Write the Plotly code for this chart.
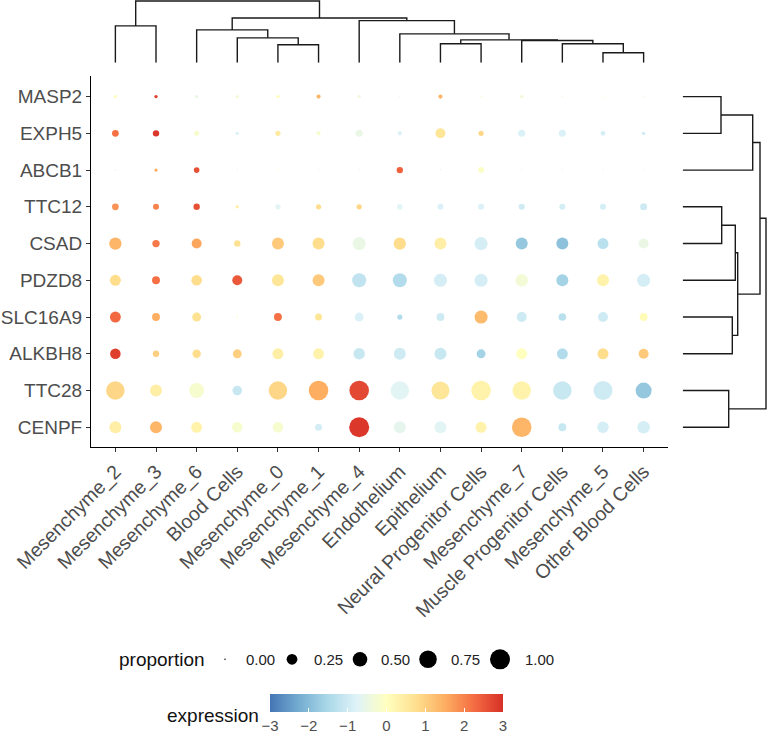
import plotly.graph_objects as go
import math

# ---------------- data ----------------
cell_types = ["Mesenchyme_2", "Mesenchyme_3", "Mesenchyme_6", "Blood Cells", "Mesenchyme_0",
              "Mesenchyme_1", "Mesenchyme_4", "Endothelium", "Epithelium", "Neural Progenitor Cells",
              "Mesenchyme_7", "Muscle Progenitor Cells", "Mesenchyme_5", "Other Blood Cells"]

genes = ["MASP2", "EXPH5", "ABCB1", "TTC12", "CSAD", "PDZD8", "SLC16A9", "ALKBH8", "TTC28", "CENPF"]

proportion = [
    [0.01, 0.01, 0.01, 0.01, 0.01, 0.02, 0.01, 0.00, 0.02, 0.00, 0.01, 0.00, 0.00, 0.00],  # MASP2
    [0.08, 0.07, 0.04, 0.01, 0.04, 0.02, 0.09, 0.02, 0.21, 0.04, 0.09, 0.09, 0.03, 0.01],  # EXPH5
    [0.00, 0.01, 0.05, 0.00, 0.00, 0.00, 0.00, 0.07, 0.00, 0.06, 0.00, 0.00, 0.00, 0.00],  # ABCB1
    [0.08, 0.06, 0.07, 0.01, 0.04, 0.04, 0.04, 0.05, 0.06, 0.06, 0.06, 0.06, 0.06, 0.09],  # TTC12
    [0.34, 0.10, 0.21, 0.07, 0.32, 0.32, 0.39, 0.34, 0.32, 0.39, 0.32, 0.32, 0.26, 0.21],  # CSAD
    [0.26, 0.12, 0.24, 0.21, 0.32, 0.32, 0.46, 0.46, 0.39, 0.39, 0.35, 0.32, 0.32, 0.39],  # PDZD8
    [0.26, 0.12, 0.16, 0.00, 0.12, 0.09, 0.16, 0.04, 0.12, 0.39, 0.21, 0.11, 0.21, 0.12],  # SLC16A9
    [0.24, 0.07, 0.14, 0.16, 0.26, 0.26, 0.29, 0.32, 0.32, 0.16, 0.26, 0.26, 0.26, 0.21],  # ALKBH8
    [0.84, 0.32, 0.53, 0.19, 0.84, 0.95, 0.95, 0.84, 0.80, 0.95, 0.84, 0.84, 0.89, 0.61],  # TTC28
    [0.32, 0.32, 0.26, 0.24, 0.24, 0.09, 1.00, 0.32, 0.32, 0.26, 0.95, 0.12, 0.29, 0.35],  # CENPF
]

expression = [
    [0.1, 2.8, -0.5, -0.3, 0.1, 1.4, -0.4, -0.5, 1.4, -0.3, -0.3, -0.4, -0.3, -0.4],   # MASP2
    [2.2, 2.9, -0.2, -0.8, 0.5, -0.2, -0.5, -0.8, 0.6, 0.9, -0.8, -0.8, -0.9, -1.0],   # EXPH5
    [-0.6, 1.5, 2.6, -0.5, 0.0, -0.5, -0.5, 2.4, -0.6, -0.1, -0.4, -0.4, -0.4, -0.5],  # ABCB1
    [1.8, 2.0, 2.6, 0.4, -0.7, 0.8, 0.9, -0.7, -0.8, -0.8, -1.0, -0.9, -0.9, -1.0],    # TTC12
    [1.4, 2.1, 1.6, 0.7, 1.1, 0.8, -0.5, 0.8, 0.4, -0.9, -1.8, -1.9, -1.3, -0.5],      # CSAD
    [0.8, 2.2, 0.8, 2.5, 0.6, 1.1, -1.2, -1.4, -0.9, -0.9, -0.3, -1.6, 0.3, -0.9],     # PDZD8
    [2.3, 1.5, 0.7, 0.2, 2.2, 0.6, -0.8, -1.4, -1.0, 1.3, -1.0, -1.3, -1.0, 0.1],      # SLC16A9
    [2.8, 1.0, 0.8, 1.0, 0.4, 0.3, -1.1, -1.0, -1.1, -1.6, 0.0, -1.4, 0.8, 1.1],       # ALKBH8
    [0.9, 0.4, -0.2, -1.1, 0.9, 1.5, 2.7, -0.7, 0.6, 0.3, 0.3, -1.1, -1.0, -1.8],      # TTC28
    [0.4, 1.4, 0.3, -0.2, -0.2, -0.9, 2.9, -0.6, -0.7, 0.3, 1.4, -1.1, -0.9, -0.9],    # CENPF
]

size_breaks = [0.00, 0.25, 0.50, 0.75, 1.00]
size_labels = ["0.00", "0.25", "0.50", "0.75", "1.00"]
color_breaks = [-3, -2, -1, 0, 1, 2, 3]
color_labels = ["\u22123", "\u22122", "\u22121", "0", "1", "2", "3"]

# dendrograms: (left, right, height)
col_tree = (("Mesenchyme_2", "Mesenchyme_3", 37),
            (("Mesenchyme_6", ("Blood Cells", ("Mesenchyme_0", "Mesenchyme_1", 18), 25), 33),
             ("Mesenchyme_4",
              ("Endothelium",
               (("Epithelium", "Neural Progenitor Cells", 19),
                ("Mesenchyme_7", ("Muscle Progenitor Cells", ("Mesenchyme_5", "Other Blood Cells", 10), 19), 22.3),
                23), 29), 42.3), 45), 62)

row_tree = (((("MASP2", "EXPH5", 38.3), "ABCB1", 70),
             ((("TTC12", "CSAD", 39), "PDZD8", 52.6), ("SLC16A9", "ALKBH8", 49.6), 55), 77.3),
            ("TTC28", "CENPF", 46), 83.3)

# ---------------- helpers ----------------
def dot_size(p):
    return 1.5 + 18.5 * math.sqrt(p)

colorscale = [[0.0, "#4575b4"], [0.125, "#74add1"], [0.25, "#abd9e9"], [0.375, "#e0f3f8"],
              [0.5, "#ffffbf"], [0.625, "#fee090"], [0.75, "#fdae61"], [0.875, "#f46d43"],
              [1.0, "#d73027"]]

def dendro_segments(tree, pos):
    segs = []
    def rec(node):
        if isinstance(node, str):
            return pos[node], 0.0
        l, r, h = node
        pl, hl = rec(l)
        pr, hr = rec(r)
        segs.append(([pl, pl, pr, pr], [hl, h, h, hr]))
        return (pl + pr) / 2.0, h
    rec(tree)
    return segs

FW, FH = 768, 738
FONT = "Liberation Sans, Arial, Helvetica, sans-serif"

def px(x):  # window pixel x -> paper
    return x / FW

def py(y):  # window pixel y -> paper
    return (FH - y) / FH

# main plot geometry (window pixels)
xdom = [px(91), px(668)]
ydom = [py(449.3), py(76.7)]
xrng = [-0.6, len(cell_types) - 1 + 0.6]
yrng = [-0.55, len(genes) - 1 + 0.55]

fig = go.Figure()

# ---------------- dot plot ----------------
xs, ys, ss, cs = [], [], [], []
for gi, g in enumerate(genes):
    for ci, c in enumerate(cell_types):
        xs.append(c)
        ys.append(g)
        ss.append(dot_size(proportion[gi][ci]))
        cs.append(expression[gi][ci])
fig.add_trace(go.Scatter(
    x=xs, y=ys, mode="markers", xaxis="x", yaxis="y",
    marker=dict(size=ss, color=cs, colorscale=colorscale, cmin=-3, cmax=3,
                line=dict(width=0), opacity=1,
                colorbar=dict(orientation="h", x=px(386.5), xanchor="center",
                              y=py(697), yanchor="top",
                              len=233, lenmode="pixels", thickness=18, thicknessmode="pixels",
                              outlinewidth=0, xpad=0, ypad=0,
                              tickvals=color_breaks, ticktext=color_labels,
                              ticks="inside", ticklen=4, tickcolor="white", tickwidth=1,
                              tickfont=dict(size=15, color="#4d4d4d", family=FONT))),
    showlegend=False, hoverinfo="skip"))

# ---------------- column dendrogram ----------------
col_pos = {c: i for i, c in enumerate(cell_types)}
for sx, sy in dendro_segments(col_tree, col_pos):
    fig.add_trace(go.Scatter(x=sx, y=sy, mode="lines", xaxis="x2", yaxis="y2",
                             line=dict(color="#1a1a1a", width=1.4), showlegend=False, hoverinfo="skip"))

# ---------------- row dendrogram ----------------
row_pos = {g: len(genes) - 1 - i for i, g in enumerate(genes)}
for sx, sy in dendro_segments(row_tree, row_pos):
    fig.add_trace(go.Scatter(x=sy, y=sx, mode="lines", xaxis="x3", yaxis="y3",
                             line=dict(color="#1a1a1a", width=1.4), showlegend=False, hoverinfo="skip"))

# ---------------- size legend ----------------
leg_dot_x = [225, 292, 360, 428, 500]
leg_lab_x = [244, 312, 379, 449, 523]
leg_y = 662
fig.add_trace(go.Scatter(x=leg_dot_x, y=[leg_y] * len(size_breaks), mode="markers",
                         xaxis="x4", yaxis="y4",
                         marker=dict(size=[dot_size(p) for p in size_breaks], color="black",
                                     line=dict(width=0), opacity=1),
                         showlegend=False, hoverinfo="skip", cliponaxis=False))

annotations = []
for lx, lab in zip(leg_lab_x, size_labels):
    annotations.append(dict(x=px(lx), y=py(leg_y), xref="paper", yref="paper", text=lab,
                            showarrow=False, xanchor="left", yanchor="middle",
                            font=dict(size=15, color="#222222", family=FONT)))
annotations.append(dict(x=px(161.5), y=py(leg_y), xref="paper", yref="paper", text="proportion",
                        showarrow=False, xanchor="center", yanchor="middle",
                        font=dict(size=19, color="#111111", family=FONT)))
annotations.append(dict(x=px(213), y=py(718), xref="paper", yref="paper", text="expression",
                        showarrow=False, xanchor="center", yanchor="middle",
                        font=dict(size=19, color="#111111", family=FONT)))

hidden = dict(visible=False, showgrid=False, zeroline=False, fixedrange=True, automargin=False)

fig.update_layout(
    template="none",
    width=FW, height=FH, autosize=False,
    margin=dict(l=0, r=0, t=0, b=0, pad=0),
    paper_bgcolor="white", plot_bgcolor="rgba(0,0,0,0)",
    font=dict(family=FONT),
    hovermode=False,
    xaxis=dict(domain=xdom, range=xrng, type="category", categoryorder="array", categoryarray=cell_types,
               showgrid=False, zeroline=False, showline=True, linecolor="black", linewidth=1,
               ticks="outside", ticklen=4, tickcolor="#333333", tickwidth=1,
               tickangle=-45, tickfont=dict(size=19.5, color="#4d4d4d", family=FONT),
               anchor="y", fixedrange=True, automargin=False),
    yaxis=dict(domain=ydom, range=yrng, type="category", categoryorder="array",
               categoryarray=list(reversed(genes)),
               showgrid=False, zeroline=False, showline=True, linecolor="black", linewidth=1,
               ticks="outside", ticklen=4, tickcolor="#333333", tickwidth=1,
               tickfont=dict(size=19, color="#4d4d4d", family=FONT),
               anchor="x", fixedrange=True, automargin=False),
    xaxis2=dict(domain=xdom, range=xrng, anchor="y2", **hidden),
    yaxis2=dict(domain=[py(63), 1.0], range=[0, 63], anchor="x2", **hidden),
    xaxis3=dict(domain=[px(682.7), 1.0], range=[0, 85.3], anchor="y3", **hidden),
    yaxis3=dict(domain=ydom, range=yrng, anchor="x3", **hidden),
    xaxis4=dict(domain=[0, 1], range=[0, FW], anchor="y4", **hidden),
    yaxis4=dict(domain=[0, 1], range=[FH, 0], anchor="x4", **hidden),
    annotations=annotations,
)

fig.write_html("out.html",
               config={"displayModeBar": False, "staticPlot": True},
               post_script="document.body.style.margin='0px';document.body.style.overflow='hidden';")
